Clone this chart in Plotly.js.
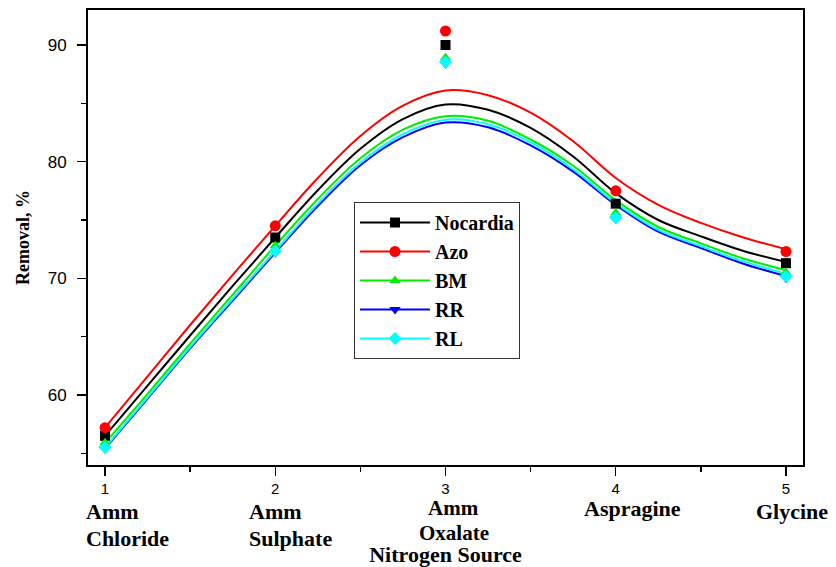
<!DOCTYPE html>
<html>
<head>
<meta charset="utf-8">
<script src="https://cdn.plot.ly/plotly-3.0.1.min.js"></script>
<style>html,body{margin:0;padding:0;background:#fff;}#chart{width:836px;height:567px;}</style>
</head>
<body>
<div id="chart"></div>
<script>
// ---- data ----
var sourcePositions = [1, 2, 3, 4, 5];
var sourceNames = [["Amm", "Chloride"], ["Amm", "Sulphate"], ["Amm", "Oxalate"], ["Aspragine"], ["Glycine"]];
var tickNumbers = ["1", "2", "3", "4", "5"];
var seriesNames = ["Nocardia", "Azo", "BM", "RR", "RL"];

// measured removal (%)
var nocardia = [56.5, 73.5, 90.0, 76.4, 71.3];
var azo      = [57.2, 74.5, 91.2, 77.5, 72.3];
var bm       = [55.9, 72.8, 88.9, 75.6, 70.5];
var rr       = [55.4, 72.2, 88.4, 75.1, 70.0];
var rl       = [55.5, 72.35, 88.55, 75.2, 70.15];

// fitted curves
var fitX        = [1, 1.25, 1.5, 1.75, 2, 2.25, 2.5, 2.75, 3, 3.25, 3.5, 3.75, 4, 4.25, 4.5, 4.75, 5];
var nocardiaFit = [56.5, 60.8, 65.1, 69.35, 73.5, 77.55, 81.1, 83.65, 84.9, 84.45, 82.9, 80.45, 77.3, 75.0, 73.6, 72.35, 71.4];
var azoFit      = [57.2, 61.6, 66.0, 70.3, 74.5, 78.6, 82.2, 84.8, 86.1, 85.7, 84.2, 81.75, 78.6, 76.3, 74.75, 73.5, 72.5];
var bmFit       = [55.9, 60.1, 64.4, 68.6, 72.8, 76.8, 80.3, 82.75, 83.9, 83.5, 81.9, 79.65, 76.7, 74.4, 73.0, 71.7, 70.7];
var rrFit       = [55.4, 59.7, 64.0, 68.1, 72.2, 76.2, 79.7, 82.1, 83.35, 82.95, 81.4, 79.15, 76.3, 74.0, 72.6, 71.25, 70.2];
var rlFit       = [55.5, 59.8, 64.1, 68.25, 72.35, 76.4, 79.9, 82.35, 83.6, 83.2, 81.65, 79.35, 76.45, 74.15, 72.75, 71.45, 70.4];

// ---- styling ----
var colors  = ["#000000", "#ff0000", "#00ee00", "#0000ff", "#00ffff"];
var symbols = ["square", "circle", "triangle-up", "triangle-down", "diamond"];
var measured = [nocardia, azo, bm, rr, rl];
var fits = [nocardiaFit, azoFit, bmFit, rrFit, rlFit];

// separate points with gaps so no connecting segments are drawn
function withGaps(arr) {
  var out = [];
  arr.forEach(function (v, k) { if (k) out.push(null); out.push(v); });
  return out;
}

var traces = [];
for (var i = 0; i < seriesNames.length; i++) {
  traces.push({
    x: fitX, y: fits[i], type: "scatter", mode: "lines",
    line: {color: colors[i], width: 2, shape: "spline", smoothing: 1},
    legendgroup: seriesNames[i], showlegend: false, hoverinfo: "skip"
  });
}
for (var j = 0; j < seriesNames.length; j++) {
  traces.push({
    x: withGaps(sourcePositions), y: withGaps(measured[j]), type: "scatter", mode: "lines+markers",
    connectgaps: false,
    name: seriesNames[j], legendgroup: seriesNames[j],
    line: {color: colors[j], width: 2},
    marker: {symbol: symbols[j], color: colors[j], size: j === 1 ? 11 : 10}
  });
}

var serif = "Liberation Serif, Times New Roman, serif";
var sans = "Liberation Sans, Arial, sans-serif";

// label placement (px offsets from tick position; yshift of first line)
var labelPlacement = [
  {xanchor: "left", xshift: -21, yshift: -32, size: 22, gap: 27},
  {xanchor: "left", xshift: -28, yshift: -32, size: 22, gap: 27},
  {xanchor: "center", xshift: 8, yshift: -29, size: 21, gap: 25},
  {xanchor: "center", xshift: 17, yshift: -29, size: 22, gap: 27},
  {xanchor: "center", xshift: 6, yshift: -32, size: 22, gap: 27}
];
var annotations = [];
sourceNames.forEach(function (lines, k) {
  var p = labelPlacement[k];
  lines.forEach(function (t, m) {
    annotations.push({
      x: sourcePositions[k], xref: "x", y: 0, yref: "paper",
      text: "<b>" + t + "</b>", showarrow: false,
      xanchor: p.xanchor, yanchor: "top", xshift: p.xshift, yshift: p.yshift - m * p.gap,
      font: {family: serif, size: p.size, color: "#000"}
    });
  });
});

var layout = {
  width: 836, height: 567,
  margin: {l: 88, r: 33, t: 10, b: 102},
  paper_bgcolor: "#fff", plot_bgcolor: "#fff",
  showlegend: true,
  legend: {
    x: 0.372, y: 0.578, xanchor: "left", yanchor: "top",
    bgcolor: "#fff", bordercolor: "#333", borderwidth: 1,
    font: {family: serif, size: 20, color: "#000", weight: "bold"},
    itemwidth: 70, tracegroupgap: 0
  },
  xaxis: {
    range: [0.9, 5.1], showgrid: false, zeroline: false,
    showline: true, linecolor: "#000", linewidth: 2, mirror: true,
    ticks: "outside", ticklen: 9, tickwidth: 1.5, tickcolor: "#000",
    tickvals: sourcePositions, ticktext: tickNumbers, ticklabelstandoff: 0,
    tickfont: {family: sans, size: 15, color: "#000"},
    minor: {ticks: "outside", ticklen: 5, tickwidth: 1.5, dtick: 0.5, tick0: 0, tickcolor: "#000"},
    title: {text: "<b>Nitrogen Source</b>", font: {family: serif, size: 22, color: "#000"}, standoff: 60}
  },
  yaxis: {
    range: [54.0, 93.0], showgrid: false, zeroline: false,
    showline: true, linecolor: "#000", linewidth: 2, mirror: true,
    ticks: "outside", ticklen: 9, tickwidth: 1.5, tickcolor: "#000",
    tick0: 0, dtick: 10, ticklabelstandoff: 7,
    tickfont: {family: sans, size: 17, color: "#000"},
    minor: {ticks: "outside", ticklen: 5, tickwidth: 1.5, dtick: 5, tick0: 0, tickcolor: "#000"},
    title: {text: "<b>Removal, %</b>", font: {family: serif, size: 18, color: "#000"}, standoff: 13}
  },
  annotations: annotations
};

Plotly.newPlot("chart", traces, layout, {displayModeBar: false, staticPlot: true});
</script>
</body>
</html>
